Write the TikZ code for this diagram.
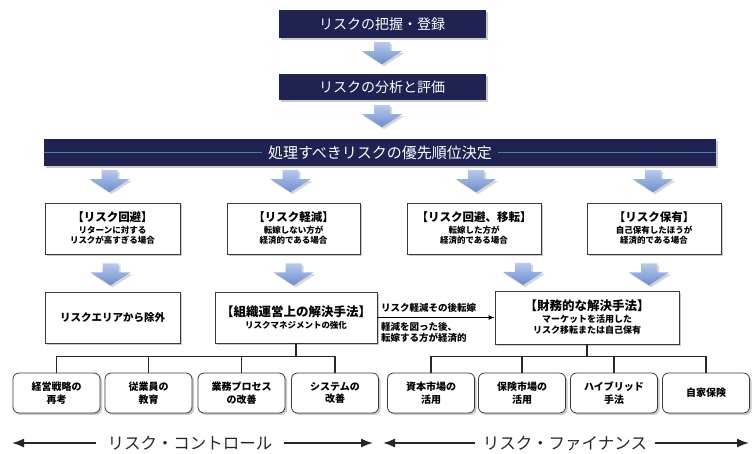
\documentclass[tikz,border=0pt]{standalone}
\usepackage{fontspec}
\newfontfamily\jp{Noto Sans CJK JP}
\usetikzlibrary{shadows,arrows.meta,calc}
\definecolor{navy}{HTML}{1E2352}
\definecolor{teal2}{HTML}{3A8C9C}
\definecolor{arrtop}{HTML}{B8C9EB}
\definecolor{arrbot}{HTML}{6A8DD0}
\definecolor{boxline}{HTML}{3A3A3A}
\newcommand\boxtitle[1]{{\fontsize{11.5}{13}\selectfont #1}}
\begin{document}
\begin{tikzpicture}[x=1pt,y=-1pt,
  shad/.style={drop shadow={opacity=0.35,shadow xshift=2pt,shadow yshift=-2pt,fill=black!60}},
  navybox/.style={fill=navy, text=white, inner sep=0pt, shad,
    font=\jp\fontsize{14}{16}\selectfont},
  whitebox/.style={draw=boxline, line width=0.8pt, fill=white, align=center,
    inner sep=2pt, shad, font=\jp\bfseries\fontsize{8.5}{10.5}\selectfont},
  smallbox/.style={whitebox, rounded corners=6pt, minimum width=87pt,
    minimum height=40pt, font=\jp\bfseries\fontsize{10}{12.5}\selectfont},
  treeline/.style={line width=1.1pt, black!85},
  biglbl/.style={font=\jp\fontsize{16.5}{18}\selectfont, text=black!85, inner ysep=0pt},
  bigarrow/.style={line width=1.6pt, black!85, -{Latex[length=12pt,width=9pt]}},
  midlbl/.style={font=\jp\bfseries\fontsize{9.5}{11.5}\selectfont, inner sep=0pt, align=left},
  bluearrow/.pic={
    \fill[black!35, opacity=0.45, shift={(2,2)}] (-8,0) -- (8,0) -- (8,9) -- (20,9) -- (0,22) -- (-20,9) -- (-8,9) -- cycle;
    \shade[top color=arrtop, bottom color=arrbot] (-8,0) -- (8,0) -- (8,9) -- (20,9) -- (0,22) -- (-20,9) -- (-8,9) -- cycle;
  }]
\useasboundingbox[fill=white] (0,0) rectangle (756,454);

% top boxes
\node[navybox, minimum width=207pt, minimum height=28pt] (top1) at (382,24) {リスクの把握・登録};
\node[navybox, minimum width=207pt, minimum height=26pt] (top2) at (382,87) {リスクの分析と評価};
\pic at ($(top1.south)+(0,4)$) {bluearrow};
\pic at ($(top2.south)+(0,5)$) {bluearrow};

% priority bar
\node[fill=navy, minimum width=672pt, minimum height=27pt, inner sep=0pt, shad] (bar) at (380,152.5) {};
\draw[teal2, line width=1pt] (bar.west) -- (bar.east);
\node[fill=navy, text=white, inner xsep=6pt, inner ysep=2pt, font=\jp\fontsize{15}{17}\selectfont] (bartext) at (bar.center) {処理すべきリスクの優先順位決定};

% row 2
\node[whitebox, minimum width=135pt, minimum height=51pt] (r2a) at (112.5,228.5)
  {\boxtitle{【リスク回避】}\\[1pt]リターンに対する\\リスクが高すぎる場合};
\node[whitebox, minimum width=133pt, minimum height=51pt] (r2b) at (293.5,228.5)
  {\boxtitle{【リスク軽減】}\\[1pt]転嫁しない方が\\経済的である場合};
\node[whitebox, minimum width=134pt, minimum height=51pt] (r2c) at (474,228.5)
  {\boxtitle{【リスク回避、移転】}\\[1pt]転嫁した方が\\経済的である場合};
\node[whitebox, minimum width=134pt, minimum height=51pt] (r2d) at (654,228.5)
  {\boxtitle{【リスク保有】}\\[1pt]自己保有したほうが\\経済的である場合};

\pic at ($(bar.south -| r2a.north)+(-3,4)$) {bluearrow};
\pic at ($(bar.south -| r2b.north)+(-3,4)$) {bluearrow};
\pic at ($(bar.south -| r2c.north)+(2,4)$) {bluearrow};
\pic at ($(bar.south -| r2d.north)+(-1,4)$) {bluearrow};

% row 3
\node[whitebox, minimum width=135pt, minimum height=51pt, font=\jp\bfseries\fontsize{10.5}{12}\selectfont] (r3a) at (112.5,317.5) {リスクエリアから除外};
\node[whitebox, minimum width=162pt, minimum height=51pt] (r3b) at (296,317.5)
  {{\fontsize{12.5}{14}\selectfont 【組織運営上の解決手法】}\\[1pt]リスクマネジメントの強化};
\node[whitebox, minimum width=184pt, minimum height=53pt, font=\jp\bfseries\fontsize{9}{11}\selectfont] (r3c) at (587,317.5)
  {{\fontsize{12.5}{14}\selectfont 【財務的な解決手法】}\\[1pt]マーケットを活用した\\リスク移転または自己保有};

\pic at ($(r2a.south)+(-2,9)$) {bluearrow};
\pic at ($(r2b.south)+(0,9)$) {bluearrow};
\pic at (523,263) {bluearrow};
\pic at ($(r2d.south)+(-5,9)$) {bluearrow};

% link between row-3 boxes
\draw[line width=0.9pt, -{Latex[length=6pt,width=5pt]}] (r3b) -- (r3c);
\node[midlbl, anchor=west] (lab1) at (381,308) {リスク軽減その後転嫁};
\node[midlbl, anchor=north west] (lab2) at (381,322) {軽減を図った後、\\転嫁する方が経済的};

% bottom boxes
\node[smallbox] (b1) at (56.5,393) {経営戦略の\\再考};
\node[smallbox] (b2) at (148.5,393) {従業員の\\教育};
\node[smallbox] (b3) at (241.5,393) {業務プロセス\\の改善};
\node[smallbox] (b4) at (335,393) {システムの\\改善};
\node[smallbox] (b5) at (431,393) {資本市場の\\活用};
\node[smallbox] (b6) at (522,393) {保険市場の\\活用};
\node[smallbox] (b7) at (614,393) {ハイブリッド\\手法};
\node[smallbox] (b8) at (706,393) {自家保険};

% trees
\coordinate (tl) at ($(r3b.south)+(0,13)$);
\draw[treeline] (r3b.south) -- (tl);
\draw[treeline] (b1.north) |- (tl) -| (b4.north);
\draw[treeline] (b2.north) -- (b2.north |- tl);
\draw[treeline] (b3.north) -- (b3.north |- tl);
\coordinate (tr) at ($(r3c.south)+(0,12)$);
\draw[treeline] (r3c.south) -- (tr);
\draw[treeline] (b5.north) |- (tr) -| (b8.north);
\draw[treeline] (b6.north) -- (b6.north |- tr);
\draw[treeline] (b7.north) -- (b7.north |- tr);

% bottom labels
\node[biglbl, inner xsep=11pt] (lc) at (190,443) {リスク・コントロール};
\coordinate (lcl) at (12,443);
\coordinate (lcr) at (373,443);
\draw[bigarrow] (lc.west) -- (lcl);
\draw[bigarrow] (lc.east) -- (lcr);
\node[biglbl, inner xsep=8pt] (rf) at (565,443) {リスク・ファイナンス};
\coordinate (rfl) at (383,443);
\coordinate (rfr) at (749,443);
\draw[bigarrow] (rf.west) -- (rfl);
\draw[bigarrow] (rf.east) -- (rfr);
\end{tikzpicture}
\end{document}
